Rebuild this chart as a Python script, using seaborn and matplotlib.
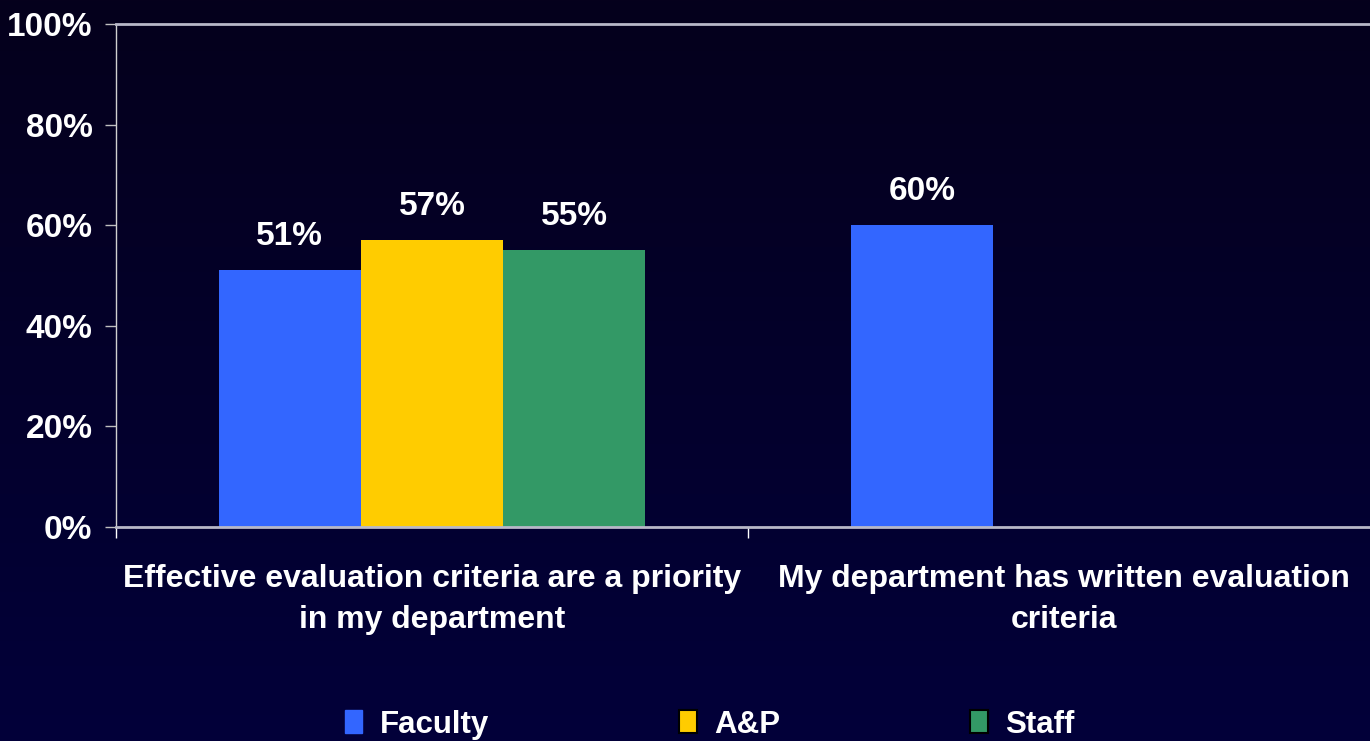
import numpy as np
import pandas as pd
import matplotlib
matplotlib.use('Agg')
import matplotlib.pyplot as plt
import matplotlib.colors as mcolors
from matplotlib.patches import Patch
import seaborn as sns

questions = ['Effective evaluation criteria are a priority\nin my department',
             'My department has written evaluation\ncriteria']
groups = ['Faculty', 'A&P', 'Staff']
faculty = [51, 60]
ap = [57, np.nan]
staff = [55, np.nan]
yticks = [0, 20, 40, 60, 80, 100]

colors = {'Faculty': '#3366ff', 'A&P': '#ffcc00', 'Staff': '#339966'}

rows = []
for i, q in enumerate(questions):
    rows.append({'question': q, 'group': 'Faculty', 'value': faculty[i]})
    rows.append({'question': q, 'group': 'A&P', 'value': ap[i]})
    rows.append({'question': q, 'group': 'Staff', 'value': staff[i]})
df = pd.DataFrame(rows)

sns.set_style('dark')
plt.rcParams['font.family'] = ['Liberation Sans', 'DejaVu Sans']
plt.rcParams['font.weight'] = 'bold'

fig = plt.figure(figsize=(13.7, 7.41), dpi=100)

# background gradient, darker at the top
bg = fig.add_axes([0, 0, 1, 1], zorder=-10)
cmap = mcolors.LinearSegmentedColormap.from_list('bg', ['#05001c', '#02003a'])
bg.imshow(np.linspace(0, 1, 256).reshape(-1, 1), aspect='auto', cmap=cmap,
          extent=[0, 1, 0, 1])
bg.axis('off')

ax = fig.add_axes([116 / 1370, 214 / 741, 1264 / 1370, 503 / 741])
ax.set_facecolor('none')

sns.barplot(data=df, x='question', y='value', hue='group', hue_order=groups,
            order=questions, palette=colors, width=0.675, gap=0, saturation=1,
            linewidth=0, edgecolor='none', legend=False, ax=ax)

for c in ax.containers:
    ax.bar_label(c, fmt='%d%%', padding=13, color='white', fontsize=24,
                 fontweight='bold')

ax.set_xlim(-0.5, 1.5)
ax.set_ylim(0, 100)
ax.set_yticks(yticks)
ax.set_yticklabels([f'{t}%' for t in yticks])
ax.set_xlabel('')
ax.set_ylabel('')
ax.grid(False)

ax.set_xticks([-0.5, 0.5, 1.5], minor=True)
ax.tick_params(axis='x', which='minor', length=8, width=1, color='white',
               direction='out', bottom=True)
ax.tick_params(axis='x', which='major', length=0, pad=27, labelsize=23,
               labelcolor='white')
ax.tick_params(axis='y', length=8, width=1, color='#c0c0c0', direction='out',
               left=True, pad=9, labelsize=24, labelcolor='white')
for lab in ax.get_xticklabels() + ax.get_yticklabels():
    lab.set_fontweight('bold')
for lab in ax.get_xticklabels():
    lab.set_linespacing(1.45)

ax.spines['left'].set_color('#d0d0d0')
ax.spines['left'].set_linewidth(1)
for s in ['bottom', 'top', 'right']:
    ax.spines[s].set_color('#b8b8c8')
    ax.spines[s].set_linewidth(2)

handles = [Patch(facecolor=colors['Faculty'], edgecolor=colors['Faculty']),
           Patch(facecolor=colors['A&P'], edgecolor='black', linewidth=1.5),
           Patch(facecolor=colors['Staff'], edgecolor='black', linewidth=1.5)]
leg = fig.legend(handles, groups, loc='center', bbox_to_anchor=(0.518, 0.022),
                 ncol=3, frameon=False, fontsize=22.5, handlelength=0.55,
                 handleheight=0.75, handletextpad=0.55, columnspacing=6.1)
for t in leg.get_texts():
    t.set_color('white')
    t.set_fontweight('bold')

fig.savefig('out.png', dpi=100)
